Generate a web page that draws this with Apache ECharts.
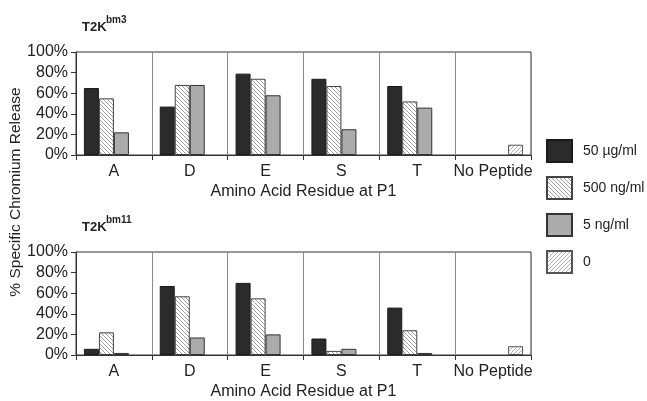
<!DOCTYPE html>
<html>
<head>
<meta charset="utf-8">
<script src="https://cdn.jsdelivr.net/npm/echarts@6/dist/echarts.min.js"></script>
<style>
  html, body { margin: 0; padding: 0; background: #fff; }
  #chart { width: 647px; height: 401px; }
</style>
</head>
<body>
<div id="chart"></div>
<script>
const categories = ['A', 'D', 'E', 'S', 'T', 'No Peptide']
const seriesNames = ['50 µg/ml', '500 ng/ml', '5 ng/ml', '0']
const yTicks = [0, 20, 40, 60, 80, 100]

// T2K bm3
const bm3Ug50 = [65, 47, 79, 74, 67, null]
const bm3Ng500 = [55, 68, 74, 67, 52, null]
const bm3Ng5 = [22, 68, 58, 25, 46, null]
const bm3None = [null, null, null, null, null, 10]

// T2K bm11
const bm11Ug50 = [6, 67, 70, 16, 46, null]
const bm11Ng500 = [22, 57, 55, 4, 24, null]
const bm11Ng5 = [2, 17, 20, 6, 2, null]
const bm11None = [null, null, null, null, null, 8.5]

const font = 'Liberation Sans, Arial, sans-serif'
const textColor = '#222'

function hatch(dir, stroke, size) {
  const c = document.createElement('canvas')
  c.width = size
  c.height = size
  const g = c.getContext('2d')
  g.fillStyle = '#fff'
  g.fillRect(0, 0, size, size)
  g.strokeStyle = stroke
  g.lineWidth = 1
  g.beginPath()
  for (let o = -size; o <= size; o += size) {
    if (dir === 'back') {
      g.moveTo(o - 1, -1); g.lineTo(o + size + 1, size + 1)
    } else {
      g.moveTo(o - 1, size + 1); g.lineTo(o + size + 1, -1)
    }
  }
  g.stroke()
  return { image: c, repeat: 'repeat' }
}

const fills = ['#2b2b2b', hatch('back', '#a0a0a0', 4), '#ababab', hatch('fwd', '#b0b0b0', 4)]
const borders = ['#1a1a1a', '#444', '#333', '#555']

const panels = [
  { sup: 'bm3', top: 52, values: [bm3Ug50, bm3Ng500, bm3Ng5, bm3None] },
  { sup: 'bm11', top: 252, values: [bm11Ug50, bm11Ng500, bm11Ng5, bm11None] }
]

const chart = echarts.init(document.getElementById('chart'))

const grid = panels.map((p) => ({
  left: 76, width: 455, top: p.top, height: 103,
  show: true, borderColor: '#333', borderWidth: 1, backgroundColor: 'transparent'
}))

const xAxis = panels.map((p, i) => ({
  type: 'category',
  gridIndex: i,
  data: categories,
  name: 'Amino Acid Residue at P1',
  nameLocation: 'middle',
  nameGap: 29,
  nameTextStyle: { color: textColor, fontSize: 16, fontFamily: font },
  axisLine: { lineStyle: { color: '#333' } },
  axisTick: { show: true, interval: 0, length: 5, lineStyle: { color: '#333' } },
  axisLabel: { interval: 0, color: textColor, fontSize: 16, fontFamily: font, margin: 9 },
  splitLine: { show: true, interval: 0, lineStyle: { color: '#8c8c8c', width: 1 } }
}))

const yAxis = panels.map((p, i) => ({
  type: 'value',
  gridIndex: i,
  min: yTicks[0],
  max: yTicks[yTicks.length - 1],
  interval: 20,
  axisLine: { show: true, lineStyle: { color: '#333' } },
  axisTick: { show: true, length: 5, lineStyle: { color: '#333' } },
  axisLabel: { color: textColor, fontSize: 16, fontFamily: font, margin: 8, formatter: '{value}%' },
  splitLine: { show: false }
}))

const series = []
panels.forEach((p, i) => {
  p.values.forEach((vals, k) => {
    series.push({
      name: seriesNames[k],
      type: 'bar',
      xAxisIndex: i,
      yAxisIndex: i,
      data: vals.map((v) => (v == null ? '-' : v)),
      barWidth: 15,
      barGap: '0%',
      itemStyle: { color: fills[k], borderColor: borders[k], borderWidth: 1 },
      emphasis: { disabled: true }
    })
  })
})

const title = []
panels.forEach((p) => {
  title.push({ text: 'T2K', left: 82, top: p.top - 31, padding: 0, textStyle: { fontSize: 13, fontWeight: 'bold', color: textColor, fontFamily: font } })
  title.push({ text: p.sup, left: 106, top: p.top - 37, padding: 0, textStyle: { fontSize: 10, fontWeight: 'bold', color: textColor, fontFamily: font } })
})

chart.setOption({
  animation: false,
  title,
  grid,
  xAxis,
  yAxis,
  series,
  legend: {
    data: seriesNames,
    orient: 'vertical',
    left: 546,
    top: 139,
    padding: 0,
    itemWidth: 25,
    itemHeight: 22,
    itemGap: 13,
    icon: 'rect',
    textStyle: { color: textColor, fontSize: 14, fontFamily: font, padding: [0, 0, 0, 6] },
    selectedMode: false
  },
  graphic: [{
    type: 'text',
    x: 16,
    y: 192,
    rotation: Math.PI / 2,
    style: {
      text: '% Specific Chromium Release',
      fill: textColor,
      font: '15.5px ' + font,
      align: 'center',
      verticalAlign: 'middle'
    }
  }]
})
</script>
</body>
</html>
